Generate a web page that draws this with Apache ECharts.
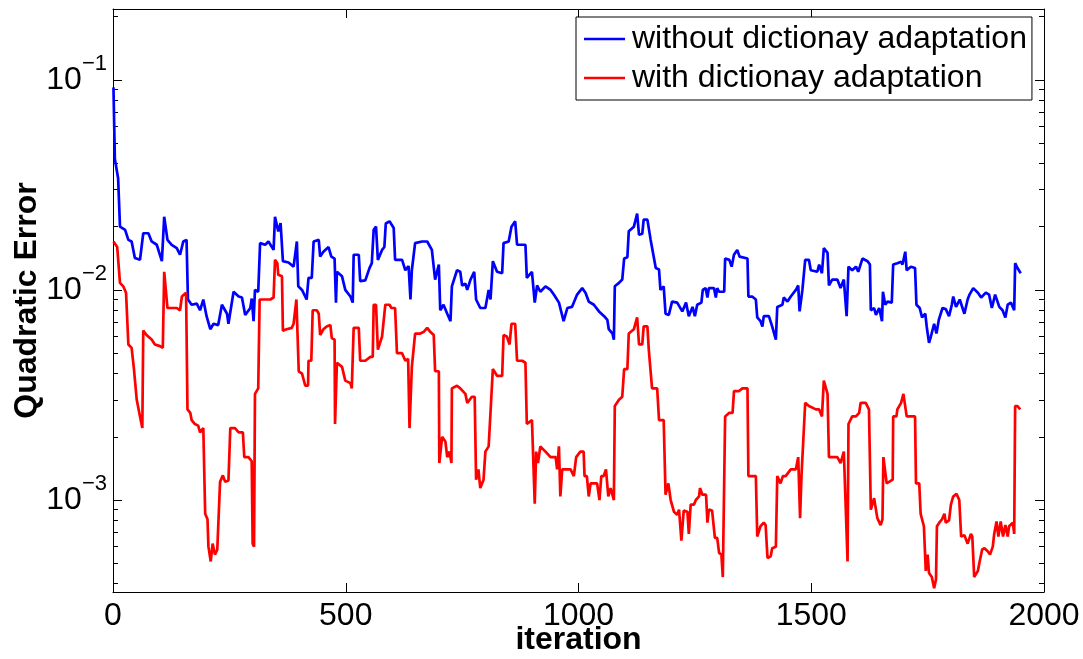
<!DOCTYPE html>
<html><head><meta charset="utf-8">
<script src="https://cdn.jsdelivr.net/npm/echarts@6/dist/echarts.min.js"></script>
<style>html,body{margin:0;padding:0;background:#fff}#c{width:1083px;height:659px}</style>
</head><body><div id="c"></div>
<script>
const seriesNames = ['without dictionay adaptation', 'with dictionay adaptation'];

// [iteration, quadratic error]
const withoutAdaptation = [
[1,0.092],[4,0.042],[11,0.034],[15,0.020],[26,0.0193],[33,0.0173],[40,0.017],[47,0.0142],[58,0.0139],[65,0.0186],
[76,0.0186],[83,0.017],[94,0.0164],[105,0.0137],[110,0.0223],[117,0.0173],[126,0.0164],[137,0.0158],[144,0.0147],[151,0.017],
[158,0.0173],[161,0.0090],[169,0.0085],[180,0.0086],[187,0.0080],[194,0.0090],[201,0.0075],[209,0.0065],[216,0.0069],[226,0.0068],
[234,0.0085],[245,0.0077],[248,0.0069],[259,0.0098],[270,0.0093],[277,0.0092],[284,0.0076],[295,0.0082],[298,0.0091],[302,0.0071],
[305,0.0100],[312,0.0098],[316,0.0167],[327,0.0164],[334,0.0170],[345,0.0155],[348,0.0223],[355,0.0190],[360,0.0208],[365,0.0137],
[377,0.0135],[388,0.0129],[395,0.0170],[398,0.0104],[406,0.0100],[416,0.0090],[420,0.0114],[427,0.0114],[431,0.0170],[442,0.0173],
[445,0.0144],[452,0.0152],[463,0.0160],[469,0.0144],[476,0.0141],[479,0.0087],[481,0.0122],[492,0.0116],[499,0.0100],[510,0.0093],
[515,0.0087],[517,0.0147],[528,0.0147],[531,0.0110],[542,0.0111],[551,0.0127],[556,0.0134],[560,0.0193],[565,0.0200],[569,0.0139],
[578,0.0155],[583,0.0160],[586,0.0207],[594,0.0212],[603,0.0197],[606,0.0139],[621,0.0139],[628,0.0124],[635,0.0130],[639,0.0090],
[642,0.0124],[649,0.0167],[664,0.0170],[675,0.0170],[678,0.0173],[685,0.0155],[692,0.0112],[700,0.0132],[703,0.0080],[710,0.0085],
[718,0.0077],[725,0.0071],[728,0.0104],[739,0.0124],[746,0.0122],[750,0.0105],[757,0.0107],[761,0.0100],[768,0.0112],[776,0.0122],
[780,0.0090],[789,0.0082],[800,0.0082],[807,0.0100],[811,0.0090],[816,0.0137],[825,0.0122],[836,0.0120],[839,0.0167],[850,0.0170],
[856,0.0200],[864,0.0212],[868,0.0164],[886,0.0164],[889,0.0114],[900,0.0122],[906,0.0087],[911,0.0105],[918,0.0098],[929,0.0104],
[940,0.0100],[947,0.0095],[958,0.0087],[968,0.0071],[976,0.0082],[986,0.0083],[997,0.0095],[1008,0.0102],[1015,0.0097],[1022,0.0088],
[1033,0.0085],[1044,0.0079],[1055,0.0075],[1062,0.0072],[1065,0.0065],[1073,0.0062],[1076,0.0058],[1078,0.0104],[1087,0.0108],[1094,0.0112],
[1098,0.0141],[1105,0.0143],[1108,0.0190],[1119,0.0200],[1126,0.0231],[1130,0.0183],[1137,0.0185],[1140,0.0216],[1148,0.0216],[1155,0.0173],
[1166,0.0127],[1173,0.0125],[1176,0.0100],[1183,0.0104],[1187,0.0077],[1194,0.0076],[1201,0.0088],[1212,0.0087],[1223,0.0079],[1231,0.0087],
[1237,0.0075],[1245,0.0083],[1250,0.0075],[1255,0.0085],[1264,0.0087],[1267,0.0100],[1273,0.0102],[1277,0.0092],[1280,0.0102],[1291,0.0102],
[1295,0.0092],[1298,0.0102],[1302,0.0098],[1313,0.0098],[1315,0.0141],[1324,0.0139],[1329,0.0129],[1334,0.0147],[1341,0.0155],[1346,0.0144],
[1363,0.0141],[1365,0.0093],[1373,0.0093],[1381,0.0090],[1384,0.0074],[1391,0.0071],[1395,0.0067],[1398,0.0075],[1409,0.0075],[1416,0.0067],
[1424,0.0058],[1427,0.0083],[1438,0.0085],[1441,0.0092],[1449,0.0088],[1456,0.0093],[1467,0.0100],[1472,0.0105],[1475,0.0079],[1481,0.0100],
[1487,0.0139],[1495,0.0139],[1499,0.0124],[1513,0.0122],[1517,0.0132],[1523,0.0120],[1527,0.0158],[1535,0.0150],[1538,0.0105],[1545,0.0112],
[1556,0.0112],[1563,0.0102],[1570,0.0112],[1576,0.0075],[1580,0.0129],[1588,0.0124],[1596,0.0129],[1601,0.0122],[1610,0.0141],[1621,0.0137],
[1626,0.0132],[1628,0.0080],[1635,0.0082],[1639,0.0076],[1646,0.0082],[1652,0.0071],[1654,0.0098],[1659,0.0085],[1664,0.0088],[1673,0.0087],
[1676,0.0132],[1685,0.0134],[1693,0.0136],[1696,0.0132],[1702,0.0152],[1705,0.0124],[1714,0.0129],[1723,0.0127],[1726,0.0085],[1733,0.0082],
[1738,0.0074],[1745,0.0077],[1748,0.0067],[1753,0.0056],[1757,0.0060],[1764,0.0069],[1769,0.0062],[1774,0.0072],[1782,0.0082],[1789,0.0081],
[1796,0.0075],[1802,0.0085],[1805,0.0093],[1811,0.0083],[1819,0.0090],[1829,0.0077],[1836,0.0090],[1840,0.0095],[1848,0.0102],[1858,0.0097],
[1865,0.0092],[1875,0.0097],[1882,0.0095],[1888,0.0082],[1895,0.0095],[1904,0.0083],[1911,0.0080],[1917,0.0074],[1922,0.0085],[1929,0.0087],
[1936,0.0080],[1938,0.0134],[1943,0.0127],[1950,0.0120]
];

const withAdaptation = [
[1,0.0170],[9,0.0160],[15,0.0108],[22,0.0104],[28,0.0097],[33,0.0055],[40,0.0053],[45,0.0042],[51,0.0030],[58,0.0025],
[63,0.0022],[65,0.0064],[72,0.0061],[83,0.0058],[90,0.0055],[101,0.0054],[107,0.0053],[110,0.0122],[114,0.0120],[117,0.0082],
[126,0.0082],[137,0.0082],[144,0.0080],[148,0.0093],[157,0.0097],[160,0.0027],[166,0.0026],[169,0.0024],[176,0.0023],[183,0.00226],
[187,0.0021],[194,0.0022],[198,0.00086],[203,0.00081],[205,0.00060],[210,0.00051],[214,0.00062],[219,0.00055],[224,0.00058],[230,0.00122],
[236,0.00131],[241,0.00122],[248,0.00124],[252,0.0022],[262,0.0022],[270,0.0021],[279,0.0021],[282,0.0016],[291,0.0016],[298,0.00153],
[300,0.00062],[303,0.00060],[305,0.0032],[312,0.0034],[315,0.0090],[327,0.0090],[338,0.0090],[345,0.0092],[348,0.0139],[353,0.0134],
[355,0.0118],[363,0.0116],[365,0.0064],[373,0.0065],[384,0.0066],[388,0.0069],[394,0.0090],[399,0.0041],[406,0.0040],[413,0.0035],
[419,0.0035],[420,0.0046],[426,0.0046],[429,0.0080],[438,0.0080],[442,0.0077],[445,0.0061],[452,0.0065],[459,0.0067],[467,0.0068],
[470,0.0059],[476,0.0058],[477,0.0023],[481,0.0045],[492,0.0043],[499,0.0037],[510,0.0036],[513,0.0034],[517,0.0066],[528,0.0066],
[531,0.0046],[542,0.0046],[553,0.0048],[558,0.0048],[560,0.0085],[565,0.0085],[569,0.0052],[578,0.0060],[582,0.0060],[585,0.0085],
[594,0.0085],[598,0.0082],[606,0.0082],[610,0.0050],[621,0.0050],[628,0.0046],[634,0.0047],[637,0.0022],[641,0.0022],[642,0.0043],
[649,0.0062],[660,0.0062],[667,0.0063],[675,0.0066],[682,0.0063],[689,0.0061],[692,0.0041],[700,0.0041],[701,0.0015],[707,0.0020],
[714,0.0019],[718,0.0016],[723,0.0017],[727,0.0015],[728,0.0034],[739,0.0035],[746,0.0034],[757,0.0032],[761,0.0029],[771,0.0031],
[777,0.0031],[780,0.00125],[785,0.0014],[789,0.00114],[796,0.00125],[800,0.0017],[807,0.0018],[811,0.0018],[816,0.0042],[825,0.0039],
[836,0.0039],[839,0.0061],[846,0.0060],[852,0.0055],[856,0.0069],[864,0.0069],[868,0.0046],[879,0.0046],[886,0.0045],[889,0.0023],
[900,0.0024],[906,0.00096],[909,0.0017],[913,0.0015],[918,0.0018],[929,0.0017],[940,0.0016],[951,0.0016],[954,0.0014],[958,0.0018],
[961,0.00104],[965,0.0014],[972,0.0014],[983,0.0014],[990,0.0013],[995,0.0016],[1004,0.0017],[1011,0.0017],[1013,0.0013],[1018,0.0013],
[1022,0.00104],[1026,0.0012],[1040,0.0012],[1045,0.0010],[1049,0.0013],[1054,0.0013],[1059,0.0014],[1064,0.00104],[1069,0.00114],[1076,0.0010],
[1078,0.0028],[1087,0.0030],[1094,0.0031],[1098,0.0042],[1105,0.0042],[1108,0.0062],[1119,0.0065],[1126,0.0074],[1130,0.0055],[1137,0.0055],
[1140,0.0067],[1148,0.0067],[1151,0.0052],[1158,0.0034],[1169,0.0034],[1173,0.0024],[1183,0.0024],[1187,0.00106],[1193,0.0012],[1198,0.0010],
[1205,0.00088],[1212,0.00085],[1216,0.0009],[1221,0.00064],[1226,0.00089],[1234,0.00088],[1237,0.00069],[1241,0.00095],[1248,0.00095],[1252,0.0010],
[1259,0.00104],[1261,0.00114],[1266,0.00106],[1274,0.00106],[1277,0.00078],[1280,0.0009],[1287,0.00089],[1293,0.00066],[1298,0.00066],[1302,0.00056],
[1307,0.00055],[1310,0.00043],[1313,0.00043],[1315,0.0025],[1324,0.0026],[1331,0.0026],[1334,0.0033],[1345,0.0033],[1352,0.0034],[1363,0.0034],
[1365,0.0013],[1373,0.0013],[1381,0.0013],[1384,0.00067],[1391,0.00075],[1398,0.00078],[1402,0.00076],[1406,0.00053],[1413,0.00054],[1416,0.00059],
[1424,0.0006],[1427,0.0013],[1434,0.0012],[1439,0.0013],[1445,0.0013],[1456,0.0014],[1467,0.0014],[1472,0.0016],[1476,0.00082],[1479,0.0013],
[1487,0.0029],[1495,0.0028],[1510,0.0027],[1517,0.0027],[1523,0.0025],[1527,0.0037],[1535,0.0032],[1538,0.0016],[1545,0.0016],[1556,0.0016],
[1563,0.0015],[1570,0.0017],[1574,0.0017],[1578,0.00051],[1580,0.0023],[1588,0.0025],[1596,0.0025],[1603,0.0026],[1606,0.0029],[1617,0.0029],
[1624,0.0027],[1628,0.0009],[1635,0.00102],[1639,0.0010],[1642,0.00082],[1649,0.00076],[1653,0.00081],[1655,0.0016],[1659,0.0016],[1662,0.0012],
[1675,0.00125],[1676,0.0025],[1683,0.0025],[1685,0.0027],[1693,0.0029],[1698,0.0032],[1702,0.0032],[1705,0.0025],[1714,0.0025],[1723,0.0025],
[1725,0.0012],[1732,0.0012],[1735,0.00086],[1742,0.00075],[1746,0.00046],[1750,0.00055],[1753,0.00045],[1759,0.00043],[1764,0.00038],[1768,0.00042],
[1770,0.00075],[1775,0.00078],[1781,0.00081],[1786,0.00086],[1789,0.00078],[1796,0.0008],[1800,0.00095],[1805,0.00104],[1812,0.00107],[1818,0.0010],
[1822,0.00067],[1829,0.00068],[1832,0.00067],[1836,0.00062],[1843,0.00069],[1846,0.00067],[1850,0.00043],[1858,0.00046],[1861,0.0005],[1867,0.00058],
[1872,0.00059],[1879,0.00057],[1884,0.00055],[1890,0.0006],[1893,0.00069],[1898,0.00079],[1902,0.00067],[1907,0.00079],[1912,0.00067],[1917,0.00076],
[1922,0.00067],[1925,0.00075],[1933,0.00078],[1936,0.00069],[1938,0.0028],[1943,0.0028],[1949,0.0027]
];

const xTickValues = [0, 500, 1000, 1500, 2000];
const yMajorTicks = [0.001, 0.01, 0.1];
const yMinorTicks = [0.0004,0.0005,0.0006,0.0007,0.0008,0.0009,
  0.002,0.003,0.004,0.005,0.006,0.007,0.008,0.009,
  0.02,0.03,0.04,0.05,0.06,0.07,0.08,0.09,0.2];
const yMin = 0.000365, yMax = 0.2172;

const FONT = '"Liberation Sans", Arial, Helvetica, sans-serif';
const chart = echarts.init(document.getElementById('c'), null, {renderer: 'canvas'});

function supLabel(v) {
  const e = Math.round(Math.log10(v));
  return '{b|10}{s|' + (e < 0 ? '\u2212' : '') + Math.abs(e) + '}';
}

const lineBlack = {color: '#000', width: 1};
function yAxisDef(pos, ticks, len, showLine, labels) {
  return {
    type: 'log', logBase: 10, min: yMin, max: yMax, position: pos,
    splitLine: {show: false}, minorTick: {show: false},
    axisLine: {show: showLine, onZero: false, lineStyle: lineBlack},
    axisTick: {show: true, inside: true, length: len, customValues: ticks, lineStyle: lineBlack},
    axisLabel: labels ? {
      show: true, customValues: yMajorTicks, formatter: supLabel, margin: 6, color: '#000',
      rich: {
        b: {fontSize: 32, fontFamily: FONT, color: '#000', lineHeight: 32, verticalAlign: 'middle'},
        s: {fontSize: 22, fontFamily: FONT, color: '#000', lineHeight: 22, verticalAlign: 'middle', padding: [0, 0, 32, 0]}
      }
    } : {show: false}
  };
}

const yAxes = [
  yAxisDef('left', yMajorTicks, 9, true, true),
  yAxisDef('left', yMinorTicks, 5, false, false),
  yAxisDef('right', yMajorTicks, 9, true, false),
  yAxisDef('right', yMinorTicks, 5, false, false)
];
Object.assign(yAxes[0], {
  name: 'Quadratic Error', nameLocation: 'middle', nameGap: 70, nameRotate: 90, nameMoveOverlap: false,
  nameTextStyle: {fontSize: 32, fontWeight: 'bold', color: '#000', fontFamily: FONT}
});

const option = {
  animation: false,
  backgroundColor: '#fff',
  grid: {left: 113, right: 39, top: 9, bottom: 67, containLabel: false, outerBoundsMode: 'none'},
  legend: {
    data: seriesNames, orient: 'vertical', left: 576, top: 17,
    padding: [6, 5, 6, 8], itemGap: 7, itemWidth: 41, itemHeight: 2.5, icon: 'rect',
    backgroundColor: '#fff', borderColor: '#000', borderWidth: 1, borderRadius: 0,
    textStyle: {fontSize: 32, color: '#000', fontFamily: FONT, padding: [0, 0, 0, 2]}
  },
  xAxis: [
    {
      type: 'value', position: 'bottom', min: 0, max: 2000, interval: 500,
      axisLine: {onZero: false, lineStyle: lineBlack},
      axisTick: {inside: true, length: 9, lineStyle: lineBlack, customValues: xTickValues},
      axisLabel: {fontSize: 32, color: '#000', fontFamily: FONT, margin: 8, showMinLabel: true, showMaxLabel: true,
                  customValues: xTickValues, formatter: function (v) { return String(v); }},
      splitLine: {show: false},
      name: 'iteration', nameLocation: 'middle', nameGap: 32, nameMoveOverlap: false,
      nameTextStyle: {fontSize: 32, fontWeight: 'bold', color: '#000', fontFamily: FONT}
    },
    {
      type: 'value', position: 'top', min: 0, max: 2000, interval: 500,
      axisLine: {onZero: false, lineStyle: lineBlack},
      axisTick: {inside: true, length: 9, lineStyle: lineBlack, customValues: xTickValues},
      axisLabel: {show: false}, splitLine: {show: false}
    }
  ],
  yAxis: yAxes,
  series: [
    {name: seriesNames[0], type: 'line', data: withoutAdaptation, xAxisIndex: 0, yAxisIndex: 0,
     symbol: 'none', showSymbol: false, lineStyle: {color: '#0000ff', width: 2.7}, itemStyle: {color: '#0000ff'}, z: 3},
    {name: seriesNames[1], type: 'line', data: withAdaptation, xAxisIndex: 0, yAxisIndex: 0,
     symbol: 'none', showSymbol: false, lineStyle: {color: '#ff0000', width: 2.7}, itemStyle: {color: '#ff0000'}, z: 3}
  ]
};
chart.setOption(option);
</script>
</body></html>
